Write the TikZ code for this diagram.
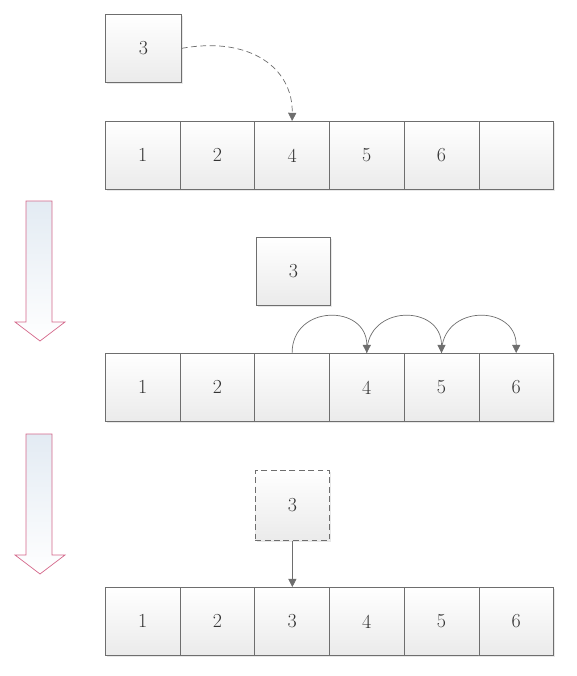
\documentclass[tikz,border=0pt]{standalone}
\usetikzlibrary{arrows.meta,shadows}
\definecolor{edge}{HTML}{6E6E6E}
\definecolor{txt}{HTML}{333333}
\definecolor{pinkedge}{HTML}{D4678A}
\definecolor{palebl}{HTML}{E3EBF3}
\tikzset{
  cellbox/.style={draw=edge, line width=0.6pt, top color=white, bottom color=gray!16,
    minimum width=2.241cm, minimum height=2.04cm, inner sep=0pt, anchor=north west,
    text=txt, font=\fontsize{17}{20}\selectfont,
    drop shadow={shadow xshift=1.2pt, shadow yshift=-1.2pt, opacity=0.18}},
  smallbox/.style={cellbox, minimum width=2.22cm},
  conn/.style={draw=edge, line width=0.6pt, -{Triangle[width=7pt,length=7pt]}},
  bigarrow/.style={draw=pinkedge, line width=0.6pt, top color=palebl, bottom color=white}
}
\begin{document}
\begin{tikzpicture}[x=0.03cm,y=-0.03cm]
\useasboundingbox (0,0) rectangle (576,676);
% stage 1
\node[smallbox, minimum width=2.28cm] (b1) at (105,14) {3};
\foreach \i/\t in {1/1,2/2,3/4,4/5,5/6,6/{}}
  \node[cellbox] (ra\i) at ({105+(\i-1)*74.7},121) {\t};
\draw[conn, dashed, dash pattern=on 5pt off 3pt] (b1.east) .. controls (250,36) and (293,68) .. (ra3.north);
% big arrow 1
\path[bigarrow] (26,201) -- (52,201) -- (52,322) -- (65,322) -- (40,341) -- (15,322) -- (26,322) -- cycle;
% stage 2
\node[smallbox] (b2) at (256,237) {3};
\foreach \i/\t in {1/1,2/2,3/{},4/4,5/5,6/6}
  \node[cellbox] (rb\i) at ({105+(\i-1)*74.7},353) {\t};
\draw[conn] (rb3.north) .. controls +(0,-49) and +(0,-49) .. (rb4.north);
\draw[conn] (rb4.north) .. controls +(0,-49) and +(0,-49) .. (rb5.north);
\draw[conn] (rb5.north) .. controls +(0,-49) and +(0,-49) .. (rb6.north);
% big arrow 2
\path[bigarrow] (26,434) -- (52,434) -- (52,555) -- (65,555) -- (40,574) -- (15,555) -- (26,555) -- cycle;
% stage 3
\node[smallbox, dashed, dash pattern=on 5pt off 3pt, minimum height=2.1cm] (b3) at (255,470) {3};
\foreach \i/\t in {1/1,2/2,3/3,4/4,5/5,6/6}
  \node[cellbox] (rc\i) at ({105+(\i-1)*74.7},587) {\t};
\draw[conn] (b3.south) -- (b3.south |- rc3.north);
\end{tikzpicture}
\end{document}
